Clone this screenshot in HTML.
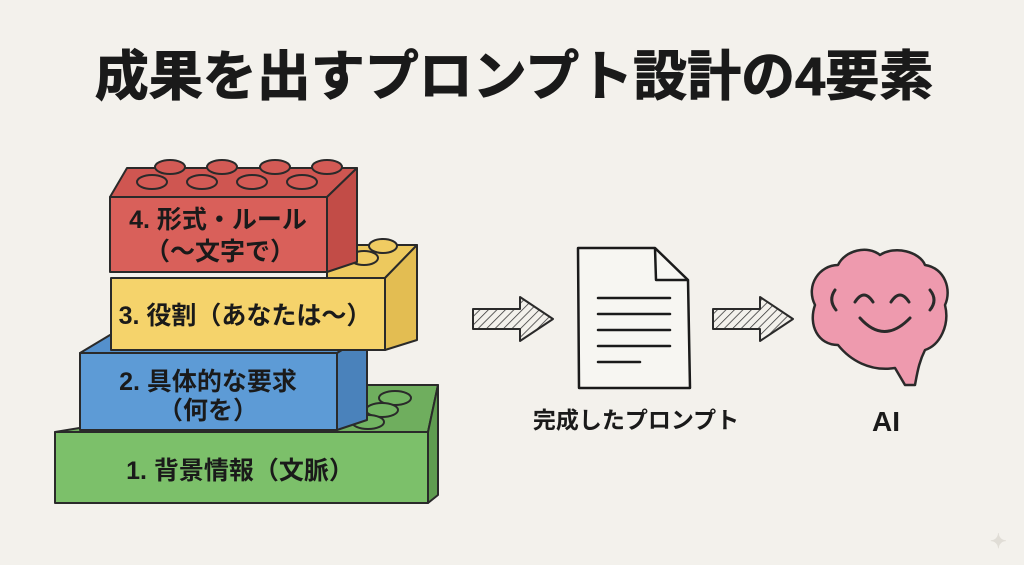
<!DOCTYPE html>
<html><head><meta charset="utf-8"><style>
html,body{margin:0;padding:0;width:1024px;height:565px;overflow:hidden;background:#f3f1ec}
svg{display:block}
text{font-family:"Liberation Sans","Noto Sans CJK JP",sans-serif;font-weight:bold;fill:#1a1a1a}
</style></head><body>
<svg width="1024" height="565" viewBox="0 0 1024 565" xmlns="http://www.w3.org/2000/svg">
<defs>
<pattern id="h" width="6" height="6" patternUnits="userSpaceOnUse" patternTransform="rotate(45)"><line x1="0" y1="0" x2="0" y2="6" stroke="#333" stroke-width="1.5"/></pattern>
</defs>
<rect width="1024" height="565" fill="#f3f1ec"/>
<text x="514" y="95" font-size="54" text-anchor="middle" stroke="#1a1a1a" stroke-width="1">成果を出すプロンプト設計の4要素</text>

<g stroke="#2a2a2a" stroke-width="2" stroke-linejoin="round">
<polygon points="55,432 340,385 438,385 428,432" fill="#6fae5e"/>
<polygon points="428,432 438,385 438,495 428,503" fill="#5f9c50"/>
<rect x="55" y="432" width="373" height="71" fill="#7cc06a"/>
<g fill="#72b462"><ellipse cx="395" cy="398" rx="16" ry="7"/><ellipse cx="382" cy="410" rx="16" ry="7"/><ellipse cx="368" cy="422" rx="16" ry="7"/></g>
<polygon points="80,353 337,353 367,335 110,335" fill="#5490cc"/>
<polygon points="337,353 367,335 367,420 337,430" fill="#4a82bb"/>
<rect x="80" y="353" width="257" height="77" fill="#5d9bd6"/>
<polygon points="327,278 327,245 417,245 385,278" fill="#edc95e"/>
<polygon points="385,278 417,245 417,340 385,350" fill="#e3bd52"/>
<rect x="111" y="278" width="274" height="72" fill="#f5d36b"/>
<g fill="#f0cc62"><ellipse cx="383" cy="246" rx="14" ry="7"/><ellipse cx="364" cy="258" rx="14" ry="7"/></g>
<polygon points="110,197 127,168 357,168 327,197" fill="#cf5651"/>
<polygon points="327,197 357,168 357,262 327,272" fill="#c24c47"/>
<rect x="110" y="197" width="217" height="75" fill="#d9605a"/>
<g fill="#d35a55">
<ellipse cx="170" cy="167" rx="15" ry="7"/><ellipse cx="222" cy="167" rx="15" ry="7"/><ellipse cx="275" cy="167" rx="15" ry="7"/><ellipse cx="327" cy="167" rx="15" ry="7"/>
<ellipse cx="152" cy="182" rx="15" ry="7"/><ellipse cx="202" cy="182" rx="15" ry="7"/><ellipse cx="252" cy="182" rx="15" ry="7"/><ellipse cx="302" cy="182" rx="15" ry="7"/>
</g>
</g>
<text x="218" y="228" font-size="25" text-anchor="middle">4. 形式・ルール</text>
<text x="220" y="260" font-size="25" text-anchor="middle">（〜文字で）</text>
<text x="245" y="324" font-size="25" text-anchor="middle">3. 役割（あなたは〜）</text>
<text x="208" y="390" font-size="25" text-anchor="middle">2. 具体的な要求</text>
<text x="208" y="419" font-size="25" text-anchor="middle">（何を）</text>
<text x="240" y="479" font-size="25" text-anchor="middle">1. 背景情報（文脈）</text>

<g stroke="#2a2a2a" stroke-width="2" stroke-linejoin="round">
<polygon points="473,309 520,309 520,297 553,319 520,341 520,329 473,329" fill="url(#h)"/>
<polygon points="713,309 760,309 760,297 793,319 760,341 760,329 713,329" fill="url(#h)"/>
</g>
<g stroke="#1a1a1a" stroke-width="2.5" fill="#f7f6f2" stroke-linejoin="round">
<polygon points="578,248 655,248 688,280 690,388 579,388"/>
<polyline points="655,248 656,280 688,280" fill="none"/>
</g>
<g stroke="#1a1a1a" stroke-width="2.5" stroke-linecap="round">
<line x1="598" y1="298" x2="670" y2="298"/><line x1="598" y1="314" x2="670" y2="314"/>
<line x1="598" y1="330" x2="670" y2="330"/><line x1="598" y1="346" x2="670" y2="346"/>
<line x1="598" y1="362" x2="640" y2="362"/>
</g>
<text x="636" y="428" font-size="23" text-anchor="middle">完成したプロンプト</text>

<g stroke="#2a2a2a" stroke-width="2.5" stroke-linejoin="round">
<path d="M905,385 L895,368 C870,372 850,360 838,345 C818,345 808,325 815,305 C805,285 820,265 838,265 C845,250 868,245 880,255 C895,245 920,252 925,265 C945,268 952,290 945,305 C950,325 940,345 925,350 C920,360 918,368 915,385 Z" fill="#ee9aae"/>
</g>
<g stroke="#2a2a2a" stroke-width="3" fill="none" stroke-linecap="round">
<path d="M855,302 Q864,288 873,302"/><path d="M891,302 Q900,288 909,302"/>
<path d="M860,318 Q884,345 910,318"/>
<path d="M835,290 Q828,300 836,310"/><path d="M930,290 Q938,300 930,310"/>
</g>
<text x="886" y="431" font-size="28" text-anchor="middle">AI</text>
<text x="990" y="548" font-size="20" style="fill:#e0ddd6">✦</text>
</svg>
</body></html>
